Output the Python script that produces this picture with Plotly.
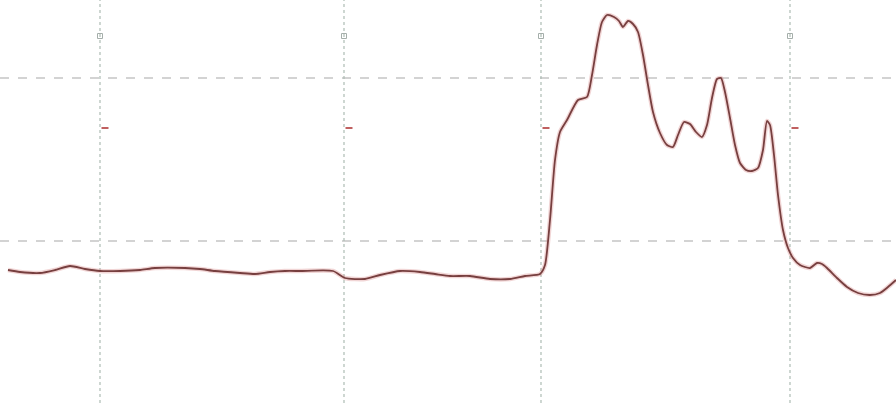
import plotly.graph_objects as go

# Signal trace (time sample, amplitude in arbitrary units)
t = [8, 20, 40, 55, 70, 85, 100, 120, 140, 155, 185, 200, 215, 240, 255, 270, 285, 300, 333,
     345, 365, 380, 400, 420, 435, 450, 470, 490, 510, 525, 540, 545, 550, 555, 560, 567, 578,
     587, 592, 597, 602, 607, 614, 619, 623, 628, 633, 638, 643, 648, 653, 660, 667, 673, 678,
     684, 690, 696, 702, 707, 712, 717, 721, 725, 730, 735, 740, 746, 752, 758, 763, 767, 770,
     774, 778, 783, 788, 793, 800, 810, 817, 822, 827, 837, 847, 858, 870, 880, 888, 896]
amp = [133, 131, 130, 133, 137, 134, 132, 132, 133, 135, 135, 134, 132, 130, 129, 131, 132, 132, 132,
       125, 124, 128, 132, 131, 129, 127, 127, 124, 124, 127, 129, 138, 183, 243, 271, 283, 303,
       306, 328, 358, 381, 388, 386, 382, 376, 382, 379, 371, 348, 318, 291, 270, 258, 256, 268,
       281, 279, 271, 266, 278, 305, 324, 325, 311, 285, 258, 240, 233, 232, 235, 253, 282, 278,
       248, 208, 173, 155, 145, 138, 135, 140, 139, 135, 125, 116, 110, 108, 110, 116, 123]

# Grid / marker positions
h_levels = [325, 162]
v_positions = [100, 344, 541, 790]
top_marker_level = 367
mid_marker_level = 275

fig = go.Figure()

# pinkish halo under the trace
fig.add_trace(go.Scatter(x=t, y=amp, mode="lines",
                         line=dict(color="rgba(220,150,150,0.40)", width=4.5, shape="spline", smoothing=0.6),
                         hoverinfo="skip", showlegend=False))
fig.add_trace(go.Scatter(x=t, y=amp, mode="lines",
                         line=dict(color="#773f3f", width=1.8, shape="spline", smoothing=0.6),
                         showlegend=False))

# top open markers on the vertical lines
fig.add_trace(go.Scatter(x=v_positions, y=[top_marker_level] * len(v_positions), mode="markers",
                         marker=dict(symbol="square-open", size=5, color="#a5aeaa", line=dict(width=1)),
                         showlegend=False, hoverinfo="skip"))
# small red tick marks beside the vertical lines
fig.add_trace(go.Scatter(x=[v + 5 for v in v_positions], y=[mid_marker_level] * len(v_positions),
                         mode="markers",
                         marker=dict(symbol="line-ew", size=5, color="#c06060",
                                     line=dict(width=2, color="#c06060")),
                         showlegend=False, hoverinfo="skip"))

for lv in h_levels:
    fig.add_hline(y=lv, line=dict(color="#a8a8a8", width=1.2, dash="dash"), layer="below")
for v in v_positions:
    fig.add_vline(x=v, line=dict(color="#adbcb4", width=1.2, dash="dot"), layer="below")

fig.update_layout(
    width=896, height=403,
    margin=dict(l=0, r=0, t=0, b=0),
    paper_bgcolor="white", plot_bgcolor="white",
    xaxis=dict(range=[0, 896], visible=False, fixedrange=True),
    yaxis=dict(range=[0, 403], visible=False, fixedrange=True),
)

fig.write_html("out.html", config={"displayModeBar": False},
               post_script="document.body.style.margin='0';document.body.style.overflow='hidden';")
